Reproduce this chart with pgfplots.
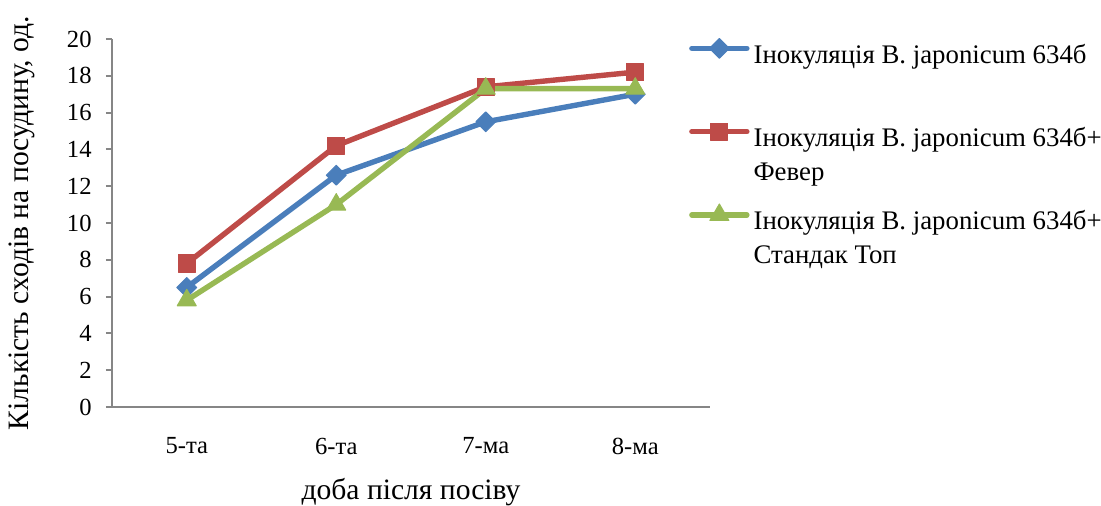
\documentclass[border=0pt]{standalone}
\usepackage{fontspec}
\setmainfont{Liberation Serif}
\usepackage{pgfplots}
\pgfplotsset{compat=1.18}
\definecolor{sblue}{HTML}{4A7EBB}
\definecolor{sred}{HTML}{BE4B48}
\definecolor{sgreen}{HTML}{98B954}
\definecolor{axgray}{HTML}{868686}
\newcommand{\twolines}[2]{\vtop{\hbox{\strut #1}\hbox{\strut #2}}}
\begin{document}
\begin{tikzpicture}
\useasboundingbox (-56pt,-49pt) rectangle (494.5pt,203.5pt);
\begin{axis}[
    at={(0,0)}, anchor=south west,
    scale only axis,
    width=299pt, height=184pt,
    xmin=-0.5, xmax=3.5,
    ymin=0, ymax=20,
    axis x line*=bottom,
    axis y line*=left,
    axis line style={draw=axgray, line width=1pt},
    every tick/.style={draw=axgray, line width=1pt},
    tick align=outside,
    major tick length=3pt,
    ytick={0,2,...,20},
    xtick={0,1,2,3},
    xticklabels={5-та, 6-та, 7-ма, 8-ма},
    major x tick style={draw=none},
    extra x ticks={-0.5,0.5,1.5,2.5,3.5},
    extra x tick labels={},
    extra x tick style={tick align=inside, major tick length=4pt},
    tick label style={font=\fontsize{12.3}{14}\selectfont},
    /pgf/number format/assume math mode=true,
    yticklabel style={anchor=east, inner sep=0pt, xshift=-7pt},
    xticklabel style={anchor=center, yshift=-16.5pt},
    ylabel={Кількість сходів на посудину, од.},
    ylabel style={at={(axis description cs:-0.1505,0.5)}, anchor=center, font=\fontsize{14.8}{17}\selectfont},
    xlabel={доба після посіву},
    xlabel style={at={(axis description cs:0.5,-0.231)}, anchor=center, font=\fontsize{14.8}{17}\selectfont},
    legend style={at={(0.9645,1.0105)}, anchor=north west, draw=none, fill=none,
        font=\fontsize{13.4}{17}\selectfont, row sep=24.25pt, inner sep=0pt,
        cells={anchor=base west, inner sep=0pt},
        /tikz/every even column/.append style={column sep=0pt}},
    legend image code/.code={\draw[mark repeat=2,mark phase=2,yshift=7.5pt,#1]
        plot coordinates {(0pt,0pt) (13.75pt,0pt) (27.5pt,0pt)};},
    every axis plot/.append style={line width=2.7pt, line cap=round, line join=round},
]
\addplot[color=sblue, mark=square*, mark size=3.5pt, mark options={rotate=45, line width=0.5pt}]
    coordinates {(0,6.5) (1,12.6) (2,15.5) (3,17.0)};
\addlegendentry{\twolines{Інокуляція B. japonicum 634б}{}}
\addplot[color=sred, mark=square*, mark size=4.3pt, mark options={line width=0.5pt}]
    coordinates {(0,7.8) (1,14.2) (2,17.4) (3,18.2)};
\addlegendentry{\twolines{Інокуляція B. japonicum 634б+}{Февер}}
\addplot[color=sgreen, mark=triangle*, mark size=5.5pt, mark options={line width=0.5pt}]
    coordinates {(0,5.8) (1,11.0) (2,17.3) (3,17.3)};
\addlegendentry{\twolines{Інокуляція B. japonicum 634б+}{Стандак Топ}}
\end{axis}
\end{tikzpicture}
\end{document}
